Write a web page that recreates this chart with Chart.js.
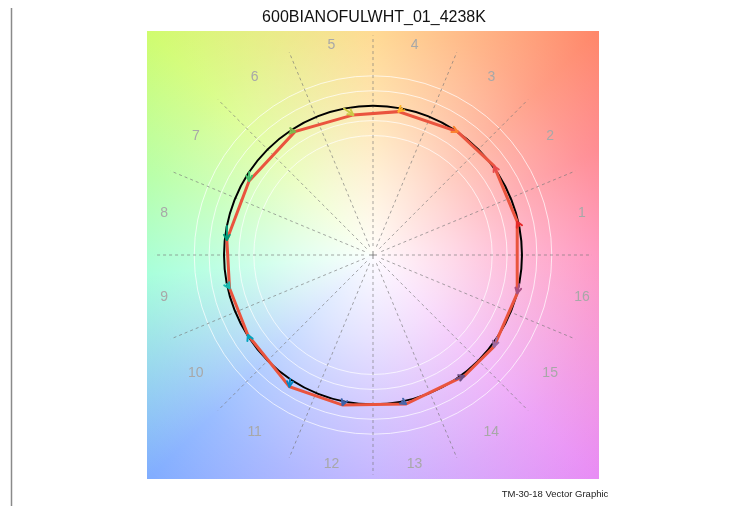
<!DOCTYPE html>
<html>
<head>
<meta charset="utf-8">
<script src="https://cdn.jsdelivr.net/npm/chart.js@4/dist/chart.umd.min.js"></script>
<style>
html,body{margin:0;padding:0;background:#fff;}
canvas{display:block;}
</style>
</head>
<body>
<canvas id="c" width="735" height="508"></canvas>
<script>
const titleText = '600BIANOFULWHT_01_4238K';
const footerText = 'TM-30-18 Vector Graphic';
const binLabels = ['1','2','3','4','5','6','7','8','9','10','11','12','13','14','15','16'];
// test vertices (normalized chroma coordinates)
const testX = [0.968, 0.812, 0.567, 0.171, -0.132, -0.524, -0.832, -0.981, -0.963, -0.840, -0.561, -0.204, 0.221, 0.612, 0.812, 0.968];
const testY = [0.223, 0.596, 0.826, 0.960, 0.938, 0.826, 0.496, 0.100, -0.223, -0.536, -0.882, -1.005, -0.998, -0.810, -0.614, -0.257];
// reference vertices (on unit circle)
const refX = [0.981, 0.831, 0.556, 0.195, -0.195, -0.556, -0.831, -0.981, -0.981, -0.831, -0.556, -0.195, 0.195, 0.556, 0.831, 0.981];
const refY = [0.195, 0.556, 0.831, 0.981, 0.981, 0.831, 0.556, 0.195, -0.195, -0.556, -0.831, -0.981, -0.981, -0.831, -0.556, -0.195];
const binColors = ['#e62828','#e74b4b','#fb812e','#ffb529','#cbca46','#7eb94c','#41c06d','#009c7c',
                   '#16bcb0','#00a4bf','#0085c3','#3b62aa','#4568ae','#6a4e85','#9d69a1','#a74f81'];
const whiteRings = [0.8, 0.9, 1.1, 1.2];
const gridAngles = [0,22.5,45,67.5,90,112.5,135,157.5,180,202.5,225,247.5,270,292.5,315,337.5];
const labelAngles = [11.25,33.75,56.25,78.75,101.25,123.75,146.25,168.75,191.25,213.75,236.25,258.75,281.25,303.75,326.25,348.75];

const polyPoints = testX.map((x,i)=>({x:x, y:testY[i]}));
polyPoints.push({x:testX[0], y:testY[0]});

const deg = Math.PI/180;

const tmPlugin = {
  id: 'tm30',
  beforeDraw(chart){
    const ctx = chart.ctx;
    const a = chart.chartArea;
    const xs = chart.scales.x, ys = chart.scales.y;
    const cx = xs.getPixelForValue(0), cy = ys.getPixelForValue(0);
    ctx.save();
    // page decorations
    ctx.strokeStyle = '#8a8a8a';
    ctx.lineWidth = 1.5;
    ctx.beginPath(); ctx.moveTo(11.5, 8); ctx.lineTo(11.5, 506); ctx.stroke();
    ctx.fillStyle = '#111';
    ctx.font = "16px 'Liberation Sans', Arial, sans-serif";
    ctx.textAlign = 'center'; ctx.textBaseline = 'middle';
    ctx.fillText(titleText, 374, 18);
    ctx.font = "9.5px 'Liberation Sans', Arial, sans-serif";
    ctx.fillStyle = '#222';
    ctx.fillText(footerText, 555, 494);

    // background
    ctx.beginPath(); ctx.rect(a.left, a.top, a.right-a.left, a.bottom-a.top); ctx.clip();
    const stops = [
      [0,   'rgb(255,128,178)'],
      [25,  'rgb(255,120,128)'],
      [45,  'rgb(255,135,105)'],
      [90,  'rgb(255,208,118)'],
      [135, 'rgb(208,252,110)'],
      [160, 'rgb(170,255,150)'],
      [185, 'rgb(145,255,210)'],
      [225, 'rgb(128,172,255)'],
      [270, 'rgb(182,162,255)'],
      [315, 'rgb(232,140,245)'],
      [360, 'rgb(255,128,178)']
    ];
    const cg = ctx.createConicGradient(0, cx, cy);
    for (let k = stops.length-1; k >= 0; k--) {
      const t = (360 - stops[k][0]) / 360;
      cg.addColorStop(Math.min(1, Math.max(0, t)), stops[k][1]);
    }
    ctx.fillStyle = cg;
    ctx.fillRect(a.left, a.top, a.right-a.left, a.bottom-a.top);
    const R = Math.hypot(a.right-cx, a.bottom-cy);
    const rg = ctx.createRadialGradient(cx, cy, 0, cx, cy, R);
    rg.addColorStop(0, 'rgba(255,255,255,0.97)');
    rg.addColorStop(0.25, 'rgba(255,255,255,0.7)');
    rg.addColorStop(0.5, 'rgba(255,255,255,0.4)');
    rg.addColorStop(0.72, 'rgba(255,255,255,0.2)');
    rg.addColorStop(1, 'rgba(255,255,255,0)');
    ctx.fillStyle = rg;
    ctx.fillRect(a.left, a.top, a.right-a.left, a.bottom-a.top);

    const px = v => xs.getPixelForValue(v) - cx;
    const py = v => cy - ys.getPixelForValue(v);
    // white rings
    ctx.strokeStyle = 'rgba(255,255,255,0.7)';
    ctx.lineWidth = 1;
    whiteRings.forEach(r=>{
      ctx.beginPath(); ctx.ellipse(cx, cy, px(r), py(r), 0, 0, 2*Math.PI); ctx.stroke();
    });
    // dashed spokes
    ctx.strokeStyle = 'rgba(120,120,120,0.65)';
    ctx.setLineDash([3,3]);
    gridAngles.forEach(g=>{
      const c = Math.cos(g*deg), s = Math.sin(g*deg);
      ctx.beginPath();
      ctx.moveTo(cx + px(0.06*c), cy - py(0.06*s));
      ctx.lineTo(cx + px(1.47*c), cy - py(1.47*s));
      ctx.stroke();
    });
    ctx.setLineDash([]);
    // center plus
    ctx.strokeStyle = 'rgba(110,110,110,0.8)';
    ctx.beginPath();
    ctx.moveTo(cx-4, cy); ctx.lineTo(cx+4, cy);
    ctx.moveTo(cx, cy-4); ctx.lineTo(cx, cy+4);
    ctx.stroke();
    // bin labels
    ctx.fillStyle = '#a8a8a8';
    ctx.font = "14px 'Liberation Sans', Arial, sans-serif";
    ctx.textAlign = 'center'; ctx.textBaseline = 'middle';
    labelAngles.forEach((g,i)=>{
      const c = Math.cos(g*deg), s = Math.sin(g*deg);
      ctx.fillText(binLabels[i], cx + px(1.43*c), cy - py(1.43*s));
    });
    // reference circle
    ctx.strokeStyle = '#000';
    ctx.lineWidth = 2;
    ctx.beginPath(); ctx.ellipse(cx, cy, px(1), py(1), 0, 0, 2*Math.PI); ctx.stroke();
    ctx.restore();
  },
  afterDatasetsDraw(chart){
    const ctx = chart.ctx;
    const xs = chart.scales.x, ys = chart.scales.y;
    ctx.save();
    ctx.lineCap = 'round'; ctx.lineJoin = 'round';
    for (let i = 0; i < testX.length; i++) {
      const x0 = xs.getPixelForValue(refX[i]), y0 = ys.getPixelForValue(refY[i]);
      const x1 = xs.getPixelForValue(testX[i]), y1 = ys.getPixelForValue(testY[i]);
      let dx = x1-x0, dy = y1-y0;
      let L = Math.hypot(dx, dy);
      let ang = L > 0.5 ? Math.atan2(dy, dx) : Math.atan2(y1 - ys.getPixelForValue(0), x1 - xs.getPixelForValue(0)) + Math.PI;
      ctx.strokeStyle = binColors[i];
      ctx.lineWidth = 2;
      ctx.beginPath(); ctx.moveTo(x0, y0); ctx.lineTo(x1, y1); ctx.stroke();
      const h = 6;
      ctx.beginPath();
      ctx.moveTo(x1 - h*Math.cos(ang - 0.5), y1 - h*Math.sin(ang - 0.5));
      ctx.lineTo(x1, y1);
      ctx.lineTo(x1 - h*Math.cos(ang + 0.5), y1 - h*Math.sin(ang + 0.5));
      ctx.stroke();
    }
    ctx.restore();
  }
};

new Chart(document.getElementById('c'), {
  type: 'scatter',
  data: {
    datasets: [{
      data: polyPoints,
      showLine: true,
      borderColor: 'rgb(234,84,62)',
      borderWidth: 3,
      pointRadius: 0,
      fill: false,
      tension: 0
    }]
  },
  options: {
    responsive: false,
    animation: false,
    layout: { padding: { left: 147, right: 136, top: 31, bottom: 29 } },
    scales: {
      x: { type: 'linear', min: -1.517, max: 1.517, display: false },
      y: { type: 'linear', min: -1.5, max: 1.5, display: false }
    },
    plugins: { legend: { display: false }, tooltip: { enabled: false }, title: { display: false } }
  },
  plugins: [tmPlugin]
});
</script>
</body>
</html>
